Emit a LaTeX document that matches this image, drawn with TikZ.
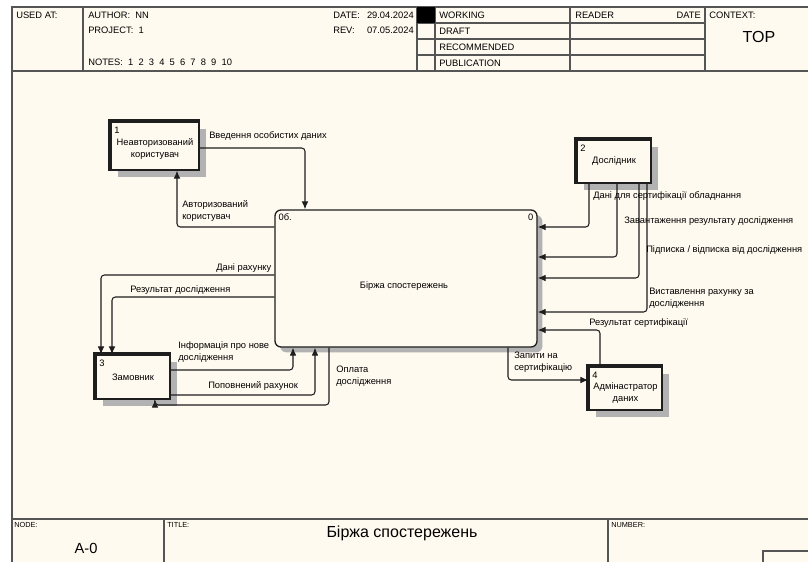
\documentclass[tikz,border=0pt]{standalone}
\usepackage{fontspec}
\setmainfont{Liberation Sans}
\usetikzlibrary{arrows.meta,shadows}
\definecolor{paper}{RGB}{255,250,240}
\definecolor{shade}{RGB}{178,178,178}
\definecolor{ink}{RGB}{30,30,30}
\definecolor{rule}{RGB}{85,85,85}

\begin{document}
\begin{tikzpicture}[
    x=0.75pt,
    y=-0.75pt,
    every node/.style={inner sep=0pt, font=\fontsize{7}{9}\selectfont},
    ent/.style={draw=ink, line width=0.9pt, fill=paper,
        drop shadow={shadow xshift=5pt, shadow yshift=-5pt, fill=shade, opacity=1}},
    proc/.style={draw=ink, line width=1pt, fill=paper, rounded corners=4.5pt,
        minimum width=196.5pt, minimum height=102.75pt,
        drop shadow={shadow xshift=4pt, shadow yshift=-4pt, fill=shade, opacity=1}},
    flow/.style={draw=ink, line width=0.8pt, rounded corners=2.5pt,
        -{Latex[length=6pt,width=5pt]}},
    lbl/.style={anchor=west, align=left},
    frame/.style={draw=rule, line width=1.1pt}
  ]
  \useasboundingbox (0,0) rectangle (808,562);
  \fill[paper] (12,7) rectangle (808,562);

  \draw[frame] (808,7) -- (12,7) -- (12,562);
  \draw[frame] (12,71) -- (808,71);
  \draw[frame] (83,7) -- (83,71) (417,7) -- (417,71) (435,7) -- (435,71)
    (570,7) -- (570,71) (705,7) -- (705,71);
  \draw[frame] (417,23) -- (705,23) (417,39) -- (705,39) (417,55) -- (705,55);
  \fill[black] (417,7) rectangle (435,23);

  \node[anchor=west] (usedat) at (16,15) {USED AT:};
  \node[anchor=west] (author) at (88,15) {AUTHOR:\ \ NN};
  \node[anchor=west] (project) at (88,30) {PROJECT:\ \ 1};
  \node[anchor=west] (notes) at (88,62) {NOTES:\ \ 1\ \ 2\ \ 3\ \ 4\ \ 5\ \ 6\ \ 7\ \ 8\ \ 9\ \ 10};
  \node[anchor=west] (date) at (333,15) {DATE:};
  \node[anchor=east] (dateval) at (414,15) {29.04.2024};
  \node[anchor=west] (rev) at (333,30) {REV:};
  \node[anchor=east] (revval) at (414,30) {07.05.2024};
  \node[anchor=west] (working) at (439,15) {WORKING};
  \node[anchor=west] (draft) at (439,31) {DRAFT};
  \node[anchor=west] (recom) at (439,47) {RECOMMENDED};
  \node[anchor=west] (public) at (439,63) {PUBLICATION};
  \node[anchor=west] (reader) at (575,15) {READER};
  \node[anchor=east] (rdate) at (701,15) {DATE};
  \node[anchor=west] (context) at (709,15) {CONTEXT:};
  \node[font=\fontsize{12}{14}\selectfont] (top) at (759,37) {TOP};

  \draw[frame] (12,519) -- (808,519);
  \draw[frame] (164,519) -- (164,562) (608,519) -- (608,562);
  \draw[draw=rule, line width=0.8pt] (808,551) -- (763,551) -- (763,562);
  \node[anchor=west, font=\fontsize{5.5}{6}\selectfont] (nodelbl) at (14,525) {NODE:};
  \node[anchor=west, font=\fontsize{5.5}{6}\selectfont] (titlelbl) at (167,525) {TITLE:};
  \node[anchor=west, font=\fontsize{5.5}{6}\selectfont] (numlbl) at (611,525) {NUMBER:};
  \node[font=\fontsize{12}{14}\selectfont] (title) at (402,533) {Біржа спостережень};
  \node[font=\fontsize{11}{13}\selectfont] (nodeid) at (86,548) {A-0};

  \node[proc] (0) at (406,278.5) {};
  \node (0t) at (404,286) {Біржа спостережень};
  \node[anchor=north west] (0a) at ([xshift=3pt,yshift=-3pt]0.north west) {0б.};
  \node[anchor=north east] (0b) at ([xshift=-3pt,yshift=-3pt]0.north east) {0};

  \begin{scope}[every label/.style={align=center}]
    \node[ent, minimum width=66pt, minimum height=36pt,
      label={[yshift=-2pt]center:Неавторизований\\користувач}] (1) at (155,146) {};
    \node[ent, minimum width=55.5pt, minimum height=32.25pt,
      label={center:Дослідник}] (2) at (614,161.5) {};
    \node[ent, minimum width=55.5pt, minimum height=33pt,
      label={center:Замовник}] (3) at (133,377) {};
    \node[ent, minimum width=54.75pt, minimum height=32.25pt,
      label={[yshift=-3.4pt]center:Адмінастратор\\даних}] (4) at (625.5,388.5) {};
  \end{scope}
  \foreach \e in {1,2,3,4} {
    \draw[ink, line width=3pt, line join=miter]
      (\e.south west) -- (\e.north west) -- (\e.north east);
    \node[anchor=north west] (n\e) at ([xshift=2.8pt,yshift=-3.8pt]\e.north west) {\e};
  }

  \draw[flow] (1.east |- 0,148) -| (0.north -| 305,0);
  \draw[flow] (0.west |- 0,227) -| (1.south -| 177,0);
  \draw[flow] (2.south -| 589,0) |- (0.east |- 0,227);
  \draw[flow] (2.south -| 617,0) |- (0.east |- 0,257);
  \draw[flow] (2.south -| 639,0) |- (0.east |- 0,278);
  \draw[flow] (2.south -| 647,0) |- (0.east |- 0,312);
  \draw[flow] (4.north -| 600,0) |- (0.east |- 0,330);
  \draw[flow] (0.south -| 508,0) |- (4.west |- 0,380);
  \draw[flow] (0.west |- 0,275) -| (3.north -| 101,0);
  \draw[flow] (0.west |- 0,297) -| (3.north -| 112,0);
  \draw[flow] (3.east |- 0,370) -| (0.south -| 293,0);
  \draw[flow] (3.east |- 0,395) -| (0.south -| 315,0);
  \draw[flow] (0.south -| 329,0) -- (329,405) -| (3.south -| 155,0);

  \node[lbl] (f1) at (209,136) {Введення особистих даних};
  \node[lbl] (f2) at (182,211) {Авторизований\\користувач};
  \node[lbl] (f3) at (593,196) {Дані для сертифікації обладнання};
  \node[lbl] (f4) at (624,221) {Завантаження результату дослідження};
  \node[lbl] (f5) at (646,250) {Підписка / відписка від дослідження};
  \node[lbl] (f6) at (649,298) {Виставлення рахунку за\\дослідження};
  \node[lbl] (f7) at (589,323) {Результат сертифікації};
  \node[lbl] (f8) at (514,362) {Запити на\\сертифікацію};
  \node[lbl] (f9) at (216,268) {Дані рахунку};
  \node[lbl] (f10) at (130,290) {Результат дослідження};
  \node[lbl] (f11) at (178,352) {Інформація про нове\\дослідження};
  \node[lbl] (f12) at (208,386) {Поповнений рахунок};
  \node[lbl] (f13) at (336,376) {Оплата\\дослідження};
\end{tikzpicture}
\end{document}
